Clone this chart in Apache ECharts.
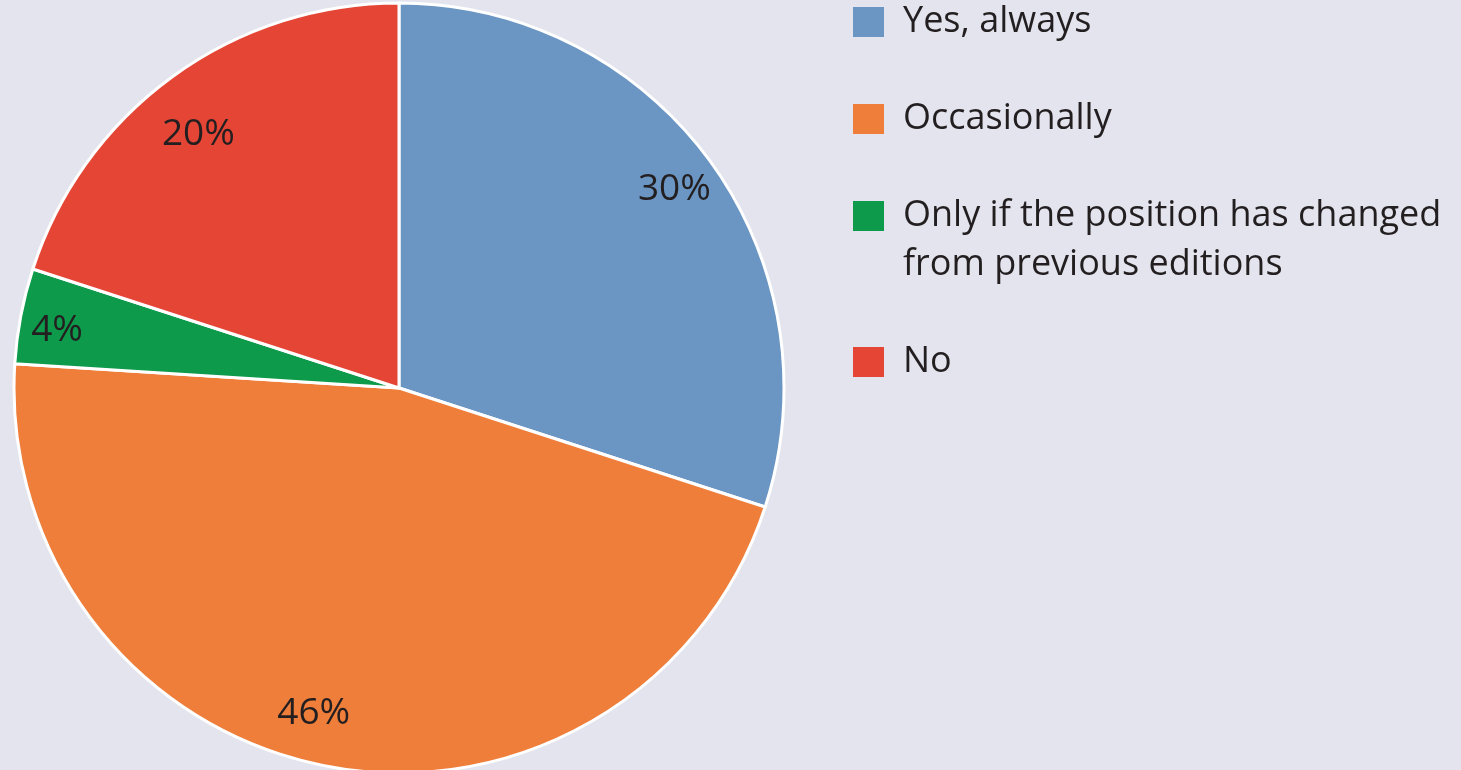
<!DOCTYPE html>
<html>
<head>
<meta charset="utf-8">
<style>
  html, body { margin: 0; padding: 0; background: #e4e4ee; }
  #chart { width: 1461px; height: 770px; }
</style>
<script src="https://cdn.jsdelivr.net/npm/echarts@6/dist/echarts.min.js"></script>
</head>
<body>
<div id="chart"></div>
<script>
// Survey answers and their shares (%)
const categories = [
  'Yes, always',
  'Occasionally',
  'Only if the position has changed\nfrom previous editions',
  'No'
];
const shares = [30, 46, 4, 20];
const colors = ['#6b95c3', '#ef7e3b', '#0d9a4b', '#e54535'];

const FONT = '"Open Sans", "Noto Sans", sans-serif';
const TEXT = '#231f20';

const data = categories.map((name, i) => ({
  name,
  value: shares[i],
  itemStyle: { color: colors[i] }
}));

// Pie geometry
const cx = 399, cy = 388, R = 385;

// Small nudges for the percentage labels (dx, dy per slice)
const labelNudge = [[2, 0], [-22, -7], [-10, 6], [-2, 20]];

// Legend: swatch + text, first text line centred on the swatch
const legendX = 853, legendTextX = 903;
const legendRows = [22, 119, 216, 362];
const legendGraphics = [];
categories.forEach((name, i) => {
  legendGraphics.push({
    type: 'rect',
    shape: { x: legendX, y: legendRows[i] - 15, width: 31, height: 30 },
    style: { fill: colors[i] },
    silent: true
  });
  legendGraphics.push({
    type: 'text',
    x: legendTextX,
    y: legendRows[i] - 24.5,
    style: {
      text: name,
      font: '36px ' + FONT,
      fill: TEXT,
      lineHeight: 49,
      verticalAlign: 'top'
    },
    silent: true
  });
});

const chart = echarts.init(document.getElementById('chart'), null, { renderer: 'canvas' });
chart.setOption({
  backgroundColor: '#e4e4ee',
  animation: false,
  graphic: legendGraphics,
  series: [
    {
      type: 'pie',
      center: [cx, cy],
      radius: [0, R],
      startAngle: 90,
      clockwise: true,
      silent: true,
      label: { show: false },
      labelLine: { show: false },
      itemStyle: { borderColor: '#ffffff', borderWidth: 3 },
      data
    },
    {
      // ring used only to place the percentage labels near the rim
      type: 'pie',
      center: [cx, cy],
      radius: [R * 0.74, R],
      startAngle: 90,
      clockwise: true,
      silent: true,
      itemStyle: { color: 'transparent', borderWidth: 0 },
      label: {
        show: true,
        position: 'inside',
        formatter: p => p.value + '%',
        color: TEXT,
        fontFamily: FONT,
        fontSize: 37
      },
      labelLine: { show: false },
      labelLayout: p => ({ dx: labelNudge[p.dataIndex][0], dy: labelNudge[p.dataIndex][1] }),
      data: categories.map((name, i) => ({ name, value: shares[i] }))
    }
  ]
});
</script>
</body>
</html>
